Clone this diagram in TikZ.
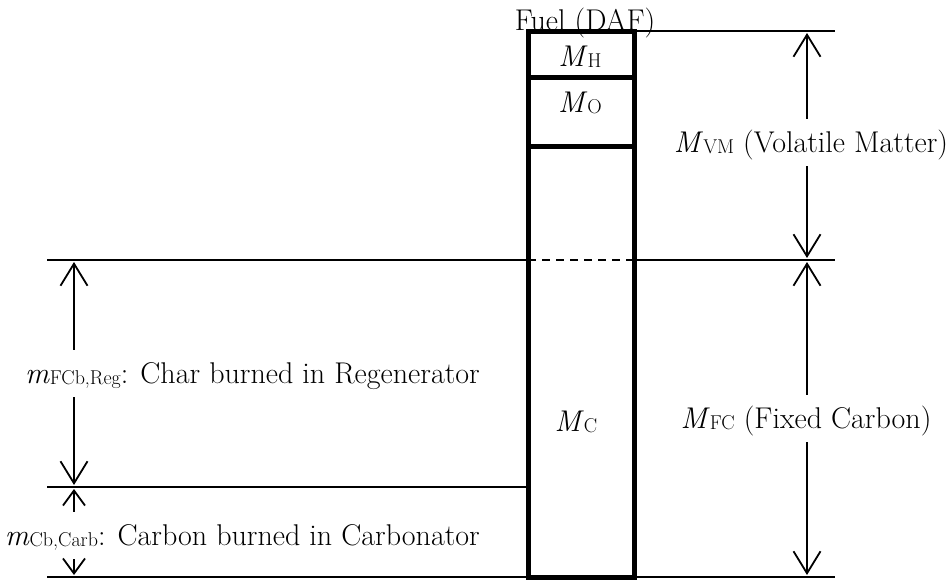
\documentclass[tikz,border=0pt]{standalone}
\usepackage{fontspec}
\usetikzlibrary{arrows.meta}
\newcommand\lowsub[1]{\raisebox{-1.5pt}{\fontsize{20}{22}\selectfont #1}}
\begin{document}
\begin{tikzpicture}[x=1pt,y=-1pt,
  thinline/.style={line width=1.8pt},
  boxline/.style={line width=5pt,line join=miter},
  dim/.style={line width=1.8pt,-{Straight Barb[length=22pt,width=27pt,line width=1.8pt]}},
  dimsmall/.style={line width=1.8pt,-{Straight Barb[length=15pt,width=22pt,line width=1.8pt]}},
  lbl/.style={font=\fontsize{30}{34}\selectfont, inner xsep=0pt, inner ysep=10pt,
              text height=23pt, text depth=4pt},
  boxlbl/.style={font=\fontsize{30}{34}\selectfont, inner sep=0pt},
]
\useasboundingbox (0,0) rectangle (947,579);

% text labels
\node[boxlbl, anchor=base] (fuel) at (585,30) {Fuel (DAF)};
\node[boxlbl] (mh) at (580,57) {\textit{M}\lowsub{H}};
\node[boxlbl] (mo) at (580,103) {\textit{M}\lowsub{O}};
\node[boxlbl] (mc) at (576,422) {\textit{M}\lowsub{C}};

\node[lbl, anchor=base] (vm) at (811,152) {\textit{M}\lowsub{VM} (Volatile Matter)};
\node[lbl, anchor=base] (fc) at (806,428) {\textit{M}\lowsub{FC} (Fixed Carbon)};
\node[lbl, anchor=base east] (reg) at (480,383) {\textit{m}\lowsub{FCb,Reg}: Char burned in Regenerator};
\node[lbl, anchor=base east] (carb) at (480,545) {\textit{m}\lowsub{Cb,Carb}: Carbon burned in Carbonator};

% fuel column
\coordinate (boxtl) at (528,31);
\coordinate (boxbr) at (634,577);
\coordinate (hoL) at (528,77);  \coordinate (hoR) at (634,77);
\coordinate (ocL) at (528,146); \coordinate (ocR) at (634,146);
\draw[boxline] (boxtl) rectangle (boxbr);
\draw[boxline] (hoL) -- (hoR);
\draw[boxline] (ocL) -- (ocR);

% horizontal level lines
\coordinate (topL) at (634,31);   \coordinate (topR) at (835,31);
\coordinate (midL) at (47,260);  \coordinate (midBL) at (528,260);
\coordinate (midBR) at (634,260); \coordinate (midR) at (835,260);
\coordinate (lowL) at (47,487);  \coordinate (lowBL) at (528,487);
\coordinate (botL) at (47,577);  \coordinate (botBL) at (528,577);
\coordinate (botBR) at (634,577); \coordinate (botR) at (835,577);
\draw[thinline] (topL) -- (topR);
\draw[thinline] (midL) -- (midBL);
\draw[thinline, dash pattern=on 8pt off 6pt] (midBL) -- (midBR);
\draw[thinline] (midBR) -- (midR);
\draw[thinline] (lowL) -- (lowBL);
\draw[thinline] (botL) -- (botBL);
\draw[thinline] (botBR) -- (botR);

% dimension arrow tips
\coordinate (vmT) at (807,33);  \coordinate (vmB) at (807,258);
\coordinate (fcT) at (807,262); \coordinate (fcB) at (807,575);
\coordinate (regT) at (74,262); \coordinate (regB) at (74,485);
\coordinate (carbT) at (74,489); \coordinate (carbB) at (74,575);

\draw[dim] (vmT |- vm.north) -- (vmT);
\draw[dim] (vmB |- vm.south) -- (vmB);
\draw[dim] (fcT |- fc.north) -- (fcT);
\draw[dim] (fcB |- fc.south) -- (fcB);
\draw[dim] (regT |- reg.north) -- (regT);
\draw[dim] (regB |- reg.south) -- (regB);
\draw[dimsmall] (carbT |- carb.north) -- (carbT);
\draw[dimsmall] (carbB |- carb.south) -- (carbB);
\end{tikzpicture}
\end{document}
